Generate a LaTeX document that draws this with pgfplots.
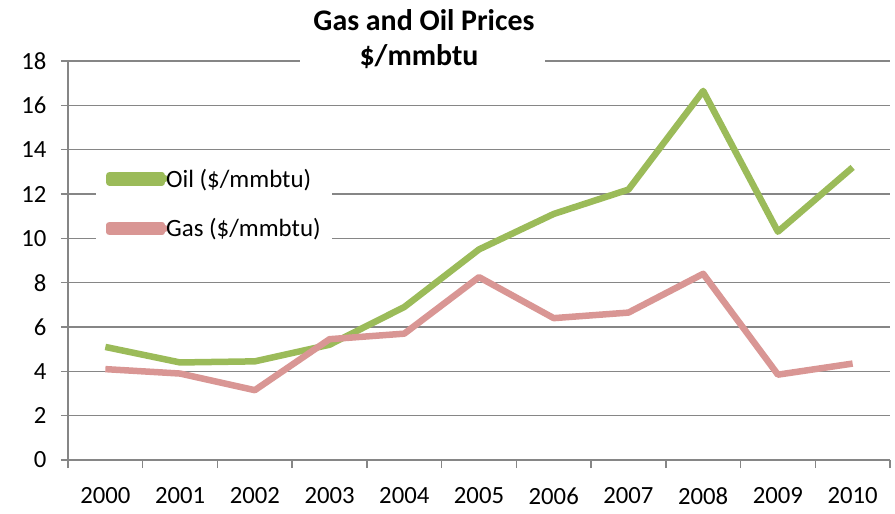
\documentclass[border=0pt]{standalone}
\usepackage{pgfplots}
\pgfplotsset{compat=1.18}
\usepackage{fontspec}
\setmainfont{Carlito}
\definecolor{oilc}{HTML}{9BBB59}
\definecolor{gasc}{HTML}{D99694}
\definecolor{axc}{HTML}{868686}
\begin{document}
\begin{tikzpicture}
\useasboundingbox (0,0) rectangle (895bp,514bp);
\begin{axis}[
  at={(68bp,54bp)}, anchor=south west,
  scale only axis, width=822bp, height=399bp,
  xmin=-0.5, xmax=10.5, ymin=0, ymax=18,
  xtick={0,...,10},
  xticklabels={2000,2001,2002,2003,2004,2005,2006,2007,2008,2009,2010},
  minor xtick={-0.5,0.5,...,10.5},
  ytick={0,2,...,18},
  axis x line*=bottom, axis y line*=left,
  axis line style={draw=axc, line width=1.5bp, -},
  tick align=outside,
  major tick length=7bp, minor tick length=8bp,
  major x tick style={draw=none},
  minor x tick style={draw=axc, line width=1.5bp},
  major y tick style={draw=axc, line width=1.5bp},
  ymajorgrids, major grid style={draw=axc, line width=1.5bp},
  tick label style={font=\fontsize{24.8}{30}\selectfont},
  /pgf/number format/assume math mode=true,
  yticklabel style={xshift=-11bp},
  xticklabel style={yshift=-17bp},
  legend style={at={(axis description cs:0.034,0.77)}, anchor=north west,
    draw=none, fill=white, font=\fontsize{25}{30}\selectfont,
    row sep=28bp, inner xsep=10bp, inner ysep=15bp,
    nodes={inner sep=1bp}},
  legend cell align=left,
  legend image code/.code={\draw[overlay, line width=7bp, line cap=round] (0bp,0bp) -- (52bp,0bp);
    \path (-3.5bp,-3.5bp) rectangle (49bp,3.5bp);},
  clip=false,
]
\addplot[oilc, line width=6.5bp, line join=round] coordinates {
(0,5.1) (1,4.4) (2,4.45) (3,5.2) (4,6.9) (5,9.5) (6,11.1) (7,12.2) (8,16.65) (9,10.3) (10,13.2)};
\addlegendentry{Oil (\$/mmbtu)}
\addplot[gasc, line width=6.5bp, line join=round] coordinates {
(0,4.1) (1,3.9) (2,3.15) (3,5.45) (4,5.7) (5,8.25) (6,6.4) (7,6.65) (8,8.4) (9,3.85) (10,4.35)};
\addlegendentry{Gas (\$/mmbtu)}
\end{axis}
\fill[white] (300bp,445bp) rectangle (545bp,500bp);
\node[anchor=base, font=\fontsize{30}{36}\selectfont\bfseries, inner sep=0pt] at (424bp,483bp) {Gas and Oil Prices};
\node[anchor=base, font=\fontsize{30}{36}\selectfont\bfseries, inner sep=0pt] at (419bp,448bp) {\$/mmbtu};
\end{tikzpicture}
\end{document}
